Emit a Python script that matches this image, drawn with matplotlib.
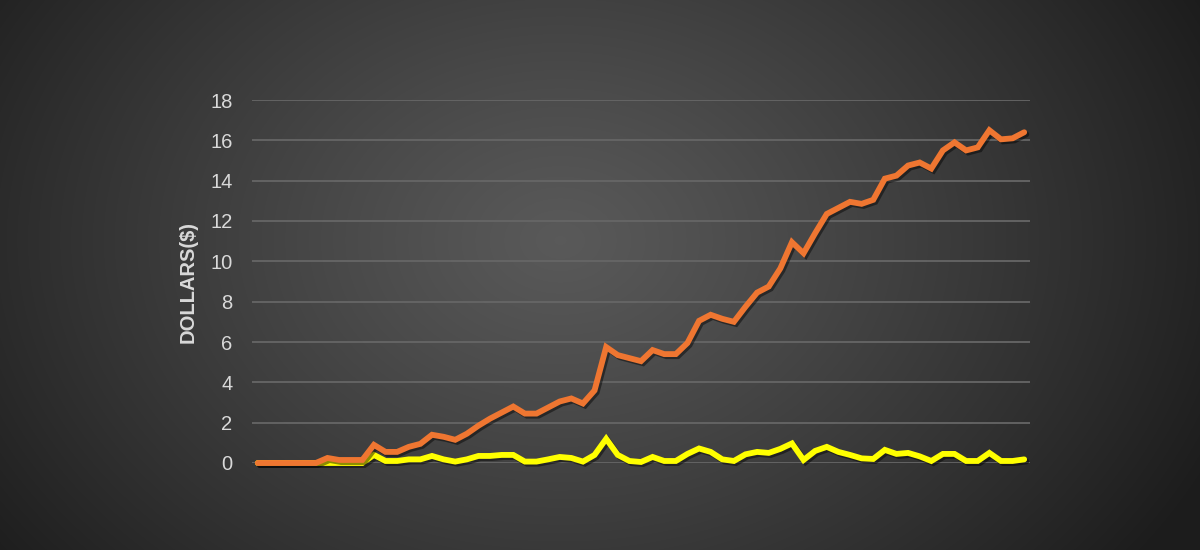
import numpy as np
import matplotlib
matplotlib.use("Agg")
import matplotlib.pyplot as plt
import matplotlib.patheffects as pe

plt.rcParams["font.family"] = ["Liberation Sans", "DejaVu Sans"]

# ---- data ----
orange_values = [0, 0, 0, 0, 0, 0, 0.25, 0.15, 0.15, 0.15,
                 0.9, 0.55, 0.55, 0.8, 0.95, 1.4, 1.3, 1.15, 1.45, 1.85,
                 2.2, 2.5, 2.8, 2.45, 2.45, 2.75, 3.05, 3.2, 2.95, 3.6,
                 5.75, 5.35, 5.2, 5.05, 5.6, 5.4, 5.4, 5.95, 7.05, 7.35,
                 7.15, 7.0, 7.75, 8.45, 8.75, 9.65, 10.95, 10.4, 11.4, 12.35,
                 12.65, 12.95, 12.85, 13.05, 14.1, 14.25, 14.75, 14.9, 14.6, 15.5,
                 15.9, 15.5, 15.65, 16.5, 16.05, 16.1, 16.4]
yellow_values = [0, 0, 0, 0, 0, 0, 0, 0, 0, 0,
                 0.4, 0.1, 0.1, 0.18, 0.18, 0.35, 0.18, 0.07, 0.18, 0.35,
                 0.35, 0.4, 0.4, 0.07, 0.07, 0.18, 0.3, 0.25, 0.07, 0.4,
                 1.2, 0.4, 0.1, 0.05, 0.3, 0.1, 0.1, 0.45, 0.72, 0.55,
                 0.18, 0.1, 0.43, 0.55, 0.5, 0.7, 0.97, 0.15, 0.6, 0.8,
                 0.55, 0.4, 0.23, 0.2, 0.65, 0.45, 0.5, 0.33, 0.1, 0.45,
                 0.45, 0.1, 0.1, 0.5, 0.1, 0.1, 0.18]
y_ticks = [0, 2, 4, 6, 8, 10, 12, 14, 16, 18]
y_label = "DOLLARS($)"

x = np.arange(len(orange_values))

fig = plt.figure(figsize=(12, 5.5), dpi=100)

# radial gradient background
bg = fig.add_axes([0, 0, 1, 1], zorder=-10)
W, H = 1200, 550
yy, xx = np.mgrid[0:H, 0:W]
cx, cy = 560, 240
r = np.sqrt(((xx - cx) / 720.0) ** 2 + ((yy - cy) / 540.0) ** 2)
r = np.clip(r, 0, 1)
c_in, c_out = 0.35, 0.11
val = c_in + (c_out - c_in) * r ** 1.15
img = np.dstack([val, val, val])
bg.imshow(img, aspect="auto", extent=[0, 1, 0, 1], origin="upper")
bg.axis("off")

ax = fig.add_axes([252 / 1200, 1 - 463 / 550, (1030 - 252) / 1200, (463 - 100) / 550])
ax.set_facecolor("none")
ax.set_xlim(-0.5, len(x) - 0.5)
ax.set_ylim(0, 18)
ax.set_yticks(y_ticks)
ax.set_yticklabels([str(t) for t in y_ticks])
ax.set_xticks([])
for s in ax.spines.values():
    s.set_visible(False)
ax.grid(axis="y", color="#666666", linewidth=1.3)
ax.set_axisbelow(True)
ax.tick_params(axis="y", length=0, pad=14, labelsize=14.5, labelcolor="#d9d9d9")

shadow = [pe.SimpleLineShadow(offset=(1.5, -1.5), shadow_color="black", alpha=0.45),
          pe.Normal()]
ax.plot(x, orange_values, color="#ef7631", linewidth=4.2, solid_joinstyle="miter",
        solid_capstyle="round", path_effects=shadow, zorder=3, clip_on=False)
ax.plot(x, yellow_values, color="#ffff00", linewidth=4.2, solid_joinstyle="miter",
        solid_capstyle="round", path_effects=shadow, zorder=2, clip_on=False)

fig.text(188 / 1200, 1 - 282 / 550, y_label, rotation=90, ha="center", va="center",
         fontsize=14.5, fontweight="bold", color="#d9d9d9")

fig.savefig("out.png", dpi=100)
